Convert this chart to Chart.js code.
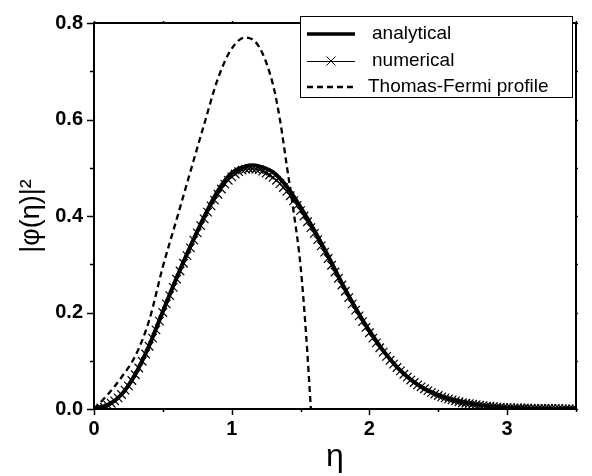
<!DOCTYPE html>
<html>
<head>
<meta charset="utf-8">
<script src="https://cdn.jsdelivr.net/npm/chart.js@4/dist/chart.umd.min.js"></script>
<style>
  body { margin: 0; background: #fff; }
  #wrap { width: 592px; height: 476px; }
</style>
</head>
<body>
<div id="wrap"><canvas id="chart" width="592" height="476"></canvas></div>
<script>
// analytical solution
const anaX = [0, 0.1, 0.2, 0.3, 0.4, 0.5, 0.6, 0.7, 0.8, 0.9, 1.0, 1.1, 1.15, 1.2, 1.3, 1.4, 1.5, 1.6, 1.7, 1.8,
              1.9, 2.0, 2.1, 2.2, 2.3, 2.4, 2.5, 2.6, 2.7, 2.8, 2.9, 3.0, 3.1, 3.2, 3.3, 3.4, 3.5];
const anaY = [0, 0.008, 0.030, 0.072, 0.131, 0.202, 0.272, 0.337, 0.398, 0.452, 0.489, 0.503, 0.505, 0.503, 0.491, 0.461, 0.418, 0.370, 0.317, 0.261,
              0.209, 0.162, 0.121, 0.087, 0.061, 0.042, 0.029, 0.019, 0.013, 0.008, 0.005, 0.003, 0.002, 0.001, 0.001, 0, 0];

// numerical solution, one point every 0.025
const numStep = 0.025;
const numY = [
  0.000, 0.001, 0.002, 0.004, 0.008, 0.012, 0.017, 0.023, 0.030, 0.039,
  0.048, 0.059, 0.071, 0.085, 0.099, 0.114, 0.130, 0.147, 0.164, 0.182,
  0.200, 0.218, 0.235, 0.252, 0.269, 0.286, 0.302, 0.318, 0.334, 0.350,
  0.365, 0.380, 0.394, 0.408, 0.421, 0.433, 0.445, 0.456, 0.466, 0.474,
  0.481, 0.487, 0.492, 0.495, 0.497, 0.498, 0.498, 0.497, 0.496, 0.493,
  0.489, 0.485, 0.480, 0.474, 0.467, 0.459, 0.451, 0.442, 0.432, 0.422,
  0.411, 0.400, 0.388, 0.376, 0.364, 0.351, 0.338, 0.325, 0.312, 0.298,
  0.284, 0.271, 0.257, 0.244, 0.231, 0.218, 0.205, 0.193, 0.181, 0.169,
  0.158, 0.147, 0.137, 0.127, 0.118, 0.109, 0.101, 0.093, 0.086, 0.079,
  0.072, 0.066, 0.060, 0.055, 0.050, 0.046, 0.042, 0.038, 0.034, 0.031,
  0.028, 0.025, 0.023, 0.021, 0.019, 0.017, 0.015, 0.013, 0.012, 0.011,
  0.010, 0.009, 0.008, 0.007, 0.006, 0.006, 0.005, 0.004, 0.004, 0.003,
  0.003, 0.003, 0.002, 0.002, 0.002, 0.002, 0.002, 0.001, 0.001, 0.001,
  0.001, 0.001, 0.001, 0.001, 0.001, 0.001, 0.000, 0.000, 0.000, 0.000,
  0.000
];

// Thomas-Fermi profile
const tfX = [0, 0.1, 0.2, 0.3, 0.4, 0.5, 0.6, 0.7, 0.8, 0.9, 1.0, 1.1, 1.2, 1.3, 1.35, 1.4, 1.45, 1.5, 1.54, 1.575];
const tfY = [0, 0.030, 0.066, 0.110, 0.183, 0.295, 0.393, 0.492, 0.590, 0.685, 0.747, 0.770, 0.750, 0.672, 0.600, 0.504, 0.408, 0.296, 0.155, 0];

const labels = ['analytical', 'numerical', 'Thomas-Fermi profile'];

const pts = (xs, ys) => ys.map((y, i) => ({ x: xs[i], y: y }));
const numX = numY.map((_, i) => +(i * numStep).toFixed(3));

const FONT = "'Liberation Sans', Arial, sans-serif";
const AREA = { left: 94, top: 12, right: 576, bottom: 409 };

// cadre + graduations (majeures / mineures) + légende
const cadre = {
  id: 'cadre',
  afterDraw(chart) {
    const { ctx, chartArea: a, scales: { x, y } } = chart;
    ctx.save();
    ctx.strokeStyle = '#000';
    ctx.lineWidth = 2;
    ctx.strokeRect(a.left, a.top, a.right - a.left, a.bottom - a.top);
    ctx.lineWidth = 1.5;
    ctx.beginPath();
    x.ticks.forEach(t => {
      const px = Math.round(x.getPixelForValue(t.value)) + 0.5;
      const major = Math.abs(t.value - Math.round(t.value)) < 1e-6;
      ctx.moveTo(px, a.bottom); ctx.lineTo(px, a.bottom + (major ? 6 : 3));
      ctx.moveTo(px, a.top); ctx.lineTo(px, a.top - 2);
    });
    y.ticks.forEach(t => {
      const py = Math.round(y.getPixelForValue(t.value)) + 0.5;
      const major = Math.round(t.value * 10) % 2 === 0;
      ctx.moveTo(a.left, py); ctx.lineTo(a.left - (major ? 7 : 4), py);
      ctx.moveTo(a.right, py); ctx.lineTo(a.right + 2, py);
    });
    ctx.stroke();

    const bx = 300, by = 16, bw = 272, bh = 81;
    ctx.fillStyle = '#fff';
    ctx.fillRect(bx, by, bw, bh);
    ctx.lineWidth = 1;
    ctx.strokeRect(bx + 0.5, by + 0.5, bw, bh);
    const rows = [34, 61, 87];
    const x0 = 307, x1 = 355;
    // analytical
    ctx.lineWidth = 3.5;
    ctx.beginPath(); ctx.moveTo(x0, rows[0]); ctx.lineTo(x1, rows[0]); ctx.stroke();
    // numerical
    ctx.lineWidth = 1;
    ctx.beginPath(); ctx.moveTo(x0, rows[1] + 0.5); ctx.lineTo(x1, rows[1] + 0.5); ctx.stroke();
    const cx = (x0 + x1) / 2, r = 4.5;
    ctx.beginPath();
    ctx.moveTo(cx - r, rows[1] - r); ctx.lineTo(cx + r, rows[1] + r);
    ctx.moveTo(cx - r, rows[1] + r); ctx.lineTo(cx + r, rows[1] - r);
    ctx.stroke();
    // TF
    ctx.lineWidth = 2.3;
    ctx.setLineDash([6, 4]);
    ctx.beginPath(); ctx.moveTo(x0, rows[2]); ctx.lineTo(x1, rows[2]); ctx.stroke();
    ctx.setLineDash([]);
    ctx.fillStyle = '#000';
    ctx.font = '19px ' + FONT;
    ctx.textBaseline = 'middle';
    labels.forEach((l, i) => ctx.fillText(l, i === 2 ? 368 : 372, rows[i]));
    ctx.restore();
  }
};

new Chart(document.getElementById('chart'), {
  type: 'line',
  data: {
    datasets: [
      { label: labels[0], data: pts(anaX, anaY), borderColor: '#000', borderWidth: 4,
        pointRadius: 0, cubicInterpolationMode: 'monotone', fill: false },
      { label: labels[1], data: pts(numX, numY), borderColor: '#000', borderWidth: 1,
        pointStyle: 'crossRot', pointRadius: 6, pointBorderWidth: 1.2, pointBorderColor: '#000',
        pointBackgroundColor: '#000', tension: 0, fill: false },
      { label: labels[2], data: pts(tfX, tfY), borderColor: '#000', borderWidth: 2.3, borderDash: [6, 4],
        pointRadius: 0, cubicInterpolationMode: 'monotone', fill: false }
    ]
  },
  options: {
    responsive: false,
    animation: false,
    events: [],
    layout: { padding: { left: 0, right: 592 - AREA.right, top: AREA.top, bottom: 0 } },
    plugins: { legend: { display: false }, tooltip: { enabled: false } },
    scales: {
      x: {
        type: 'linear', min: 0, max: 3.5,
        grid: { display: false, drawTicks: false },
        border: { display: false },
        afterFit: s => { s.height = 476 - AREA.bottom; },
        ticks: {
          stepSize: 0.5, autoSkip: false, maxRotation: 0, padding: 8, color: '#000',
          font: { family: FONT, size: 20, weight: 'bold' },
          callback: v => Math.abs(v - Math.round(v)) < 1e-6 ? String(Math.round(v)) : ''
        },
        title: { display: true, text: 'η', color: '#000', font: { family: FONT, size: 32 },
                 padding: { top: 0, bottom: 0 } }
      },
      y: {
        min: 0, max: 0.8,
        grid: { display: false, drawTicks: false },
        border: { display: false },
        afterFit: s => { s.width = AREA.left; },
        ticks: {
          stepSize: 0.1, autoSkip: false, padding: 11, color: '#000',
          font: { family: FONT, size: 20, weight: 'bold' },
          callback: v => Math.round(v * 10) % 2 === 0 ? v.toFixed(1) : ''
        },
        title: { display: true, text: '|φ(η)|²', color: '#000', font: { family: FONT, size: 27 },
                 padding: { top: 15, bottom: 0 } }
      }
    }
  },
  plugins: [cadre]
});
</script>
</body>
</html>
